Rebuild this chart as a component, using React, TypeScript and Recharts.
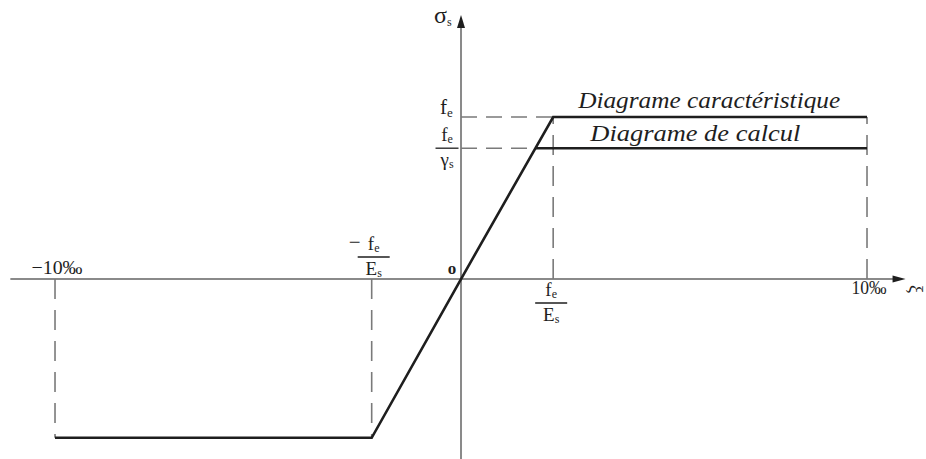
import { LineChart, Line, XAxis, YAxis, ReferenceDot } from "recharts";

// strain ξ in ‰, stress σs in MPa
const fe = 400;
const feOverGammaS = 323;
const feCompression = -392;
const strainLimits = [-10, 10];
const strainElastic = 2.27;
const strainElasticNeg = -2.2;
const strainCalcStart = 1.83;

const characteristic = [
  { e: strainLimits[0], s: feCompression },
  { e: strainElasticNeg, s: feCompression },
  { e: 0, s: 0 },
  { e: strainElastic, s: fe },
  { e: strainLimits[1], s: fe },
];

const calcul = [
  { e: strainCalcStart, s: feOverGammaS },
  { e: strainLimits[1], s: feOverGammaS },
];

// dashed projections onto the axes
const verticalGuides = [
  { e: strainLimits[0], s: feCompression },
  { e: strainElasticNeg, s: feCompression },
  { e: strainElastic, s: fe },
  { e: strainLimits[1], s: fe },
];
const horizontalGuides = [
  { e: strainElastic, s: fe },
  { e: strainCalcStart, s: feOverGammaS },
];

const xAxisLine = [
  { e: -11.1, s: 0 },
  { e: 10.7, s: 0 },
];
const yAxisLine = [
  { e: 0, s: -450 },
  { e: 0, s: 640 },
];
const xArrowTip = 10.95;
const yArrowTip = 652;

const xDomain = [-11.355, 11.453];
const yDomain = [-444.4, 688.9];

const serif = '"Liberation Serif", "Times New Roman", Tinos, Times, serif';
const ink = "#1e1e1e";
const axisGray = "#8a8a8a";
const guideGray = "#7a7a7a";

function Note({
  viewBox,
  dx = 0,
  dy = 0,
  text,
  sub,
  size = 19,
  subSize = 12,
  anchor = "start",
  italic = false,
  bold = false,
  rotate = 0,
  length,
}: any) {
  if (!viewBox) return null;
  const x = viewBox.x + dx;
  const y = viewBox.y + dy;
  return (
    <text
      x={x}
      y={y}
      textAnchor={anchor}
      style={{ fontFamily: serif }}
      fontSize={size}
      fontStyle={italic ? "italic" : "normal"}
      fontWeight={bold ? "bold" : "normal"}
      fill={ink}
      dominantBaseline={rotate ? "central" : undefined}
      transform={rotate ? `rotate(${rotate} ${x} ${y})` : undefined}
      textLength={length}
      lengthAdjust={length ? "spacingAndGlyphs" : undefined}
    >
      {text}
      {sub && (
        <tspan fontSize={subSize} dy={3}>
          {sub}
        </tspan>
      )}
    </text>
  );
}

// stacked numerator / bar / denominator around the anchor
function Fraction({
  viewBox,
  dx = 0,
  dy = 0,
  num,
  numSub,
  den,
  denSub,
  bar = 30,
  minus = false,
}: any) {
  if (!viewBox) return null;
  const cx = viewBox.x + dx;
  const cy = viewBox.y + dy;
  return (
    <g style={{ fontFamily: serif }} fill={ink}>
      {minus && (
        <text x={cx - bar / 2 + 3} y={cy - 8} textAnchor="end" fontSize={21}>
          −
        </text>
      )}
      <text x={cx} y={cy - 7} textAnchor="middle" fontSize={19}>
        {num}
        <tspan fontSize={12} dy={2}>
          {numSub}
        </tspan>
      </text>
      <line
        x1={cx - bar / 2}
        x2={cx + bar / 2}
        y1={cy}
        y2={cy}
        stroke={ink}
        strokeWidth={1.3}
      />
      <text x={cx} y={cy + 18} textAnchor="middle" fontSize={19}>
        {den}
        <tspan fontSize={12} dy={2}>
          {denSub}
        </tspan>
      </text>
    </g>
  );
}

export default function App() {
  return (
    <div style={{ position: "absolute", left: 0, top: 0, background: "#fff" }}>
      <LineChart
        width={926}
        height={459}
        margin={{ top: 0, right: 0, bottom: 0, left: 0 }}
      >
        <XAxis
          type="number"
          dataKey="e"
          domain={xDomain}
          allowDataOverflow
          hide
        />
        <YAxis
          type="number"
          dataKey="s"
          domain={yDomain}
          allowDataOverflow
          hide
        />

        {/* axes */}
        <Line
          data={xAxisLine}
          dataKey="s"
          stroke={axisGray}
          strokeWidth={2}
          dot={false}
          activeDot={false}
          isAnimationActive={false}
        />
        <Line
          data={yAxisLine}
          dataKey="s"
          stroke={axisGray}
          strokeWidth={2}
          dot={false}
          activeDot={false}
          isAnimationActive={false}
        />

        {verticalGuides.map((g, i) => (
          <Line
            key={`v-${i}`}
            data={[{ e: g.e, s: 0 }, g]}
            dataKey="s"
            stroke={guideGray}
            strokeWidth={1.6}
            strokeDasharray="20 11"
            dot={false}
            activeDot={false}
            isAnimationActive={false}
          />
        ))}
        {horizontalGuides.map((g, i) => (
          <Line
            key={`h-${i}`}
            data={[{ e: 0, s: g.s }, g]}
            dataKey="s"
            stroke={guideGray}
            strokeWidth={1.6}
            strokeDasharray="16 9"
            dot={false}
            activeDot={false}
            isAnimationActive={false}
          />
        ))}

        <Line
          data={characteristic}
          dataKey="s"
          stroke={ink}
          strokeWidth={2.6}
          dot={false}
          activeDot={false}
          isAnimationActive={false}
        />
        <Line
          data={calcul}
          dataKey="s"
          stroke={ink}
          strokeWidth={2.6}
          dot={false}
          activeDot={false}
          isAnimationActive={false}
        />

        {/* arrow heads */}
        <ReferenceDot
          x={xArrowTip}
          y={0}
          r={0}
          shape={(p: any) => (
            <polygon
              points={`${p.cx},${p.cy} ${p.cx - 13},${p.cy - 3.5} ${p.cx - 13},${p.cy + 3.5}`}
              fill={ink}
            />
          )}
        />
        <ReferenceDot
          x={0}
          y={yArrowTip}
          r={0}
          shape={(p: any) => (
            <polygon
              points={`${p.cx},${p.cy} ${p.cx - 4},${p.cy + 13} ${p.cx + 4},${p.cy + 13}`}
              fill={ink}
            />
          )}
        />

        {/* axis titles */}
        <ReferenceDot
          x={0}
          y={yArrowTip}
          r={0}
          fill="none"
          stroke="none"
          label={<Note dx={-27} dy={8} text="σ" sub="s" size={24} subSize={12} />}
        />
        <ReferenceDot
          x={xArrowTip}
          y={0}
          r={0}
          fill="none"
          stroke="none"
          label={<Note dx={10} dy={10} text="ξ" anchor="middle" size={18} rotate={90} />}
        />

        {/* stress levels */}
        <ReferenceDot
          x={0}
          y={fe}
          r={0}
          fill="none"
          stroke="none"
          label={<Note dx={-21} dy={-3} text="f" sub="e" size={21} subSize={13} />}
        />
        <ReferenceDot
          x={0}
          y={feOverGammaS}
          r={0}
          fill="none"
          stroke="none"
          label={<Fraction dx={-14} dy={0} num="f" numSub="e" den="γ" denSub="s" bar={23} />}
        />
        <ReferenceDot
          x={0}
          y={0}
          r={0}
          fill="none"
          stroke="none"
          label={<Note dx={-9} dy={-5} text="o" anchor="middle" size={17} bold />}
        />

        {/* strain marks */}
        <ReferenceDot
          x={strainLimits[0]}
          y={0}
          r={0}
          fill="none"
          stroke="none"
          label={<Note dx={2} dy={-5} text="−10‰" anchor="middle" size={19} length={51} />}
        />
        <ReferenceDot
          x={strainLimits[1]}
          y={0}
          r={0}
          fill="none"
          stroke="none"
          label={<Note dx={2} dy={15} text="10‰" anchor="middle" size={19} length={35} />}
        />
        <ReferenceDot
          x={strainElasticNeg}
          y={0}
          r={0}
          fill="none"
          stroke="none"
          label={<Fraction dx={2} dy={-22} num="f" numSub="e" den="E" denSub="s" bar={32} minus />}
        />
        <ReferenceDot
          x={strainElastic}
          y={0}
          r={0}
          fill="none"
          stroke="none"
          label={<Fraction dx={-2} dy={24} num="f" numSub="e" den="E" denSub="s" bar={32} />}
        />

        {/* curve names */}
        <ReferenceDot
          x={strainElastic}
          y={fe}
          r={0}
          fill="none"
          stroke="none"
          label={
            <Note
              dx={25}
              dy={-9}
              text="Diagrame caractéristique"
              size={23}
              italic
              length={262}
            />
          }
        />
        <ReferenceDot
          x={strainCalcStart}
          y={feOverGammaS}
          r={0}
          fill="none"
          stroke="none"
          label={
            <Note
              dx={55}
              dy={-7}
              text="Diagrame de calcul"
              size={23}
              italic
              length={210}
            />
          }
        />
      </LineChart>
    </div>
  );
}
